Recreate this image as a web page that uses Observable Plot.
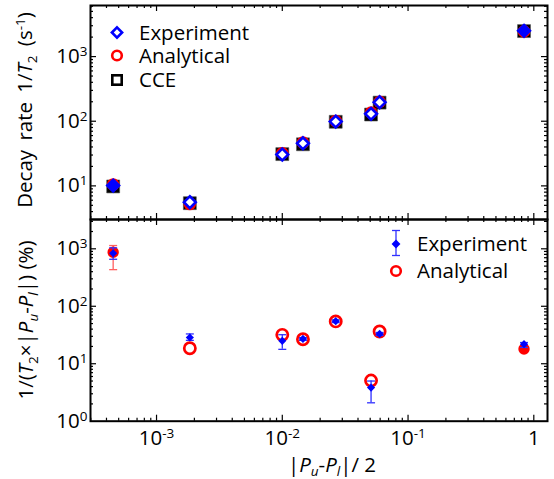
<!DOCTYPE html>
<html><head><meta charset="utf-8">
<script src="https://cdn.jsdelivr.net/npm/d3@7"></script>
<script src="https://cdn.jsdelivr.net/npm/@observablehq/plot@0.6"></script>
<style>
html,body{margin:0;padding:0;background:#fff;}
#chart{position:relative;width:554px;height:479px;font-family:"Open Sans",sans-serif;}
#chart svg{position:absolute;left:0;top:0;}
</style></head><body><div id="chart"></div>
<script>
// ---- data ----
const xVals = [4.52e-4, 1.84e-3, 0.0100, 0.0146, 0.0266, 0.0508, 0.0594, 0.836];
const rateExperiment = [10.1, 5.6, 30.5, 45.5, 98.6, 130, 196, 2500];
const rateAnalytical = [10.5, 5.25, 32, 47, 101, 136, 199, 2450];
const rateCCE = [9.8, 5.4, 31, 44, 98, 127, 194, 2480];
const normExperiment = [837, 28.6, 25, 27, 55, 3.84, 33, 21.9];
const normExpLow = [657, 25.5, 17.8, 25.5, 52, 2.09, 31, 19.2];
const normExpHigh = [1040, 33, 32, 28.5, 58, 5.0, 35, 23.4];
const normAnalytical = [870, 18.6, 31.8, 26.7, 54.5, 5.1, 36.4, 18.1];
const normAnaLow = [434, null, null, null, null, null, null, null];
const normAnaHigh = [1140, null, null, null, null, null, null, null];
const xMajorTicks = [1e-3, 1e-2, 1e-1, 1];
const xTickLabels = ["10^-3", "10^-2", "10^-1", "1"];
const yTopTicks = [10, 100, 1000];
const yTopLabels = ["10^1", "10^2", "10^3"];
const yBotTicks = [1, 10, 100, 1000];
const yBotLabels = ["10^0", "10^1", "10^2", "10^3"];
const topLegend = ["Experiment", "Analytical", "CCE"];
const botLegend = ["Experiment", "Analytical"];

// ---- layout ----
const W = 554, H = 479, L = 90, R = 7;
const topY0 = 5, midY = 219, botY1 = 420.7;
const xDomain = [2.985e-4, 1.285];
const topDomain = [3.02, 6166];
const botDomain = [1, 3236];
const BLUE = "#0000ff", RED = "#ff0000";
const FONT = 20.5;

function minorTicks(domain) {
  const out = [];
  for (let e = -6; e <= 5; e++) for (let m = 2; m <= 9; m++) {
    const v = m * Math.pow(10, e);
    if (v > domain[0] && v < domain[1]) out.push(v);
  }
  return out;
}
function frameTicks(yDomain, yMajor, ph) {
  const pw = W - L - R;
  const s = {stroke: "black", strokeWidth: 1.2};
  const xm = xMajorTicks.filter(v => v >= xDomain[0] && v <= xDomain[1]);
  const xn = minorTicks(xDomain);
  const yn = minorTicks(yDomain);
  const ym = yMajor.filter(v => v > yDomain[0] && v < yDomain[1]);
  return [
    Plot.tickX(xm, {x: d => d, insetTop: ph - 6, ...s}),
    Plot.tickX(xm, {x: d => d, insetBottom: ph - 6, ...s}),
    Plot.tickX(xn, {x: d => d, insetTop: ph - 3, ...s}),
    Plot.tickX(xn, {x: d => d, insetBottom: ph - 3, ...s}),
    Plot.tickY(ym, {y: d => d, insetRight: pw - 6, ...s}),
    Plot.tickY(ym, {y: d => d, insetLeft: pw - 6, ...s}),
    Plot.tickY(yn, {y: d => d, insetRight: pw - 3, ...s}),
    Plot.tickY(yn, {y: d => d, insetLeft: pw - 3, ...s})
  ];
}
const capSymbol = {draw(ctx, size) { const w = Math.sqrt(size / Math.PI); ctx.moveTo(-w, 0); ctx.lineTo(w, 0); }};
const svgStyle = {fontFamily: "'Open Sans', sans-serif", fontSize: FONT + "px", background: "transparent", overflow: "visible", color: "black"};

const rows = xVals.map((x, i) => ({
  i, x,
  rExp: rateExperiment[i], rAna: rateAnalytical[i], rCCE: rateCCE[i],
  nExp: normExperiment[i], nLo: normExpLow[i], nHi: normExpHigh[i],
  nAna: normAnalytical[i], aLo: normAnaLow[i], aHi: normAnaHigh[i]
}));
const filledIdx = d => d.i === 0 || d.i === xVals.length - 1;
const topLabelMap = new Map(yTopTicks.map((v, i) => [v, yTopLabels[i]]));
const botLabelMap = new Map(yBotTicks.map((v, i) => [v, yBotLabels[i]]));
const xLabelMap = new Map(xMajorTicks.map((v, i) => [v, xTickLabels[i]]));

const topPlot = Plot.plot({
  width: W, height: H, marginLeft: L, marginRight: R, marginTop: topY0, marginBottom: H - midY,
  style: svgStyle,
  x: {type: "log", domain: xDomain, axis: null},
  y: {type: "log", domain: topDomain, axis: null},
  color: {type: "identity"},
  marks: [
    ...frameTicks(topDomain, yTopTicks, midY - topY0),
    Plot.axisY(yTopTicks, {anchor: "left", label: null, tickSize: 0, tickPadding: 3, fontSize: FONT, tickFormat: d => topLabelMap.get(d)}),
    Plot.dot(rows, {x: "x", y: "rCCE", symbol: "square", r: 7.3, fill: "black", stroke: "#555", strokeWidth: 0.6}),
    Plot.dot(rows, {x: "x", y: "rAna", symbol: "circle", r: 6.3, fill: RED}),
    Plot.dot(rows, {x: "x", y: "rExp", symbol: "diamond2", r: 5.3, stroke: BLUE, strokeWidth: 2.6, fill: d => filledIdx(d) ? BLUE : "white"}),
    Plot.frame({stroke: "black", strokeWidth: 2})
  ]
});

const botPlot = Plot.plot({
  width: W, height: H, marginLeft: L, marginRight: R, marginTop: midY, marginBottom: H - botY1,
  style: svgStyle,
  x: {type: "log", domain: xDomain, axis: null},
  y: {type: "log", domain: botDomain, axis: null},
  color: {type: "identity"},
  marks: [
    ...frameTicks(botDomain, yBotTicks, botY1 - midY),
    Plot.axisY(yBotTicks, {anchor: "left", label: null, tickSize: 0, tickPadding: 3, fontSize: FONT, tickFormat: d => botLabelMap.get(d)}),
    Plot.axisX(xMajorTicks, {anchor: "bottom", label: null, tickSize: 0, tickPadding: 9, fontSize: FONT, tickFormat: d => xLabelMap.get(d)}),
    Plot.ruleX(rows.filter(d => d.aLo != null), {x: "x", y1: "aLo", y2: "aHi", stroke: "#ff6060", strokeWidth: 1.3}),
    Plot.dot(rows.filter(d => d.aLo != null), {x: "x", y: "aLo", symbol: capSymbol, r: 4, stroke: "#ff6060", strokeWidth: 1.3}),
    Plot.dot(rows.filter(d => d.aLo != null), {x: "x", y: "aHi", symbol: capSymbol, r: 4, stroke: "#ff6060", strokeWidth: 1.3}),
    Plot.dot(rows.filter(d => !filledIdx(d)), {x: "x", y: "nAna", symbol: "circle", r: 5.6, stroke: RED, strokeWidth: 2.7, fill: "none"}),
    Plot.dot(rows.filter(filledIdx), {x: "x", y: "nAna", symbol: "circle", r: 4.6, stroke: RED, strokeWidth: 2.2, fill: RED}),
    Plot.ruleX(rows, {x: "x", y1: "nLo", y2: "nHi", stroke: "#3030ff", strokeWidth: 1.3}),
    Plot.dot(rows, {x: "x", y: "nLo", symbol: capSymbol, r: 4, stroke: "#3030ff", strokeWidth: 1.3}),
    Plot.dot(rows, {x: "x", y: "nHi", symbol: capSymbol, r: 4, stroke: "#3030ff", strokeWidth: 1.3}),
    Plot.dot(rows, {x: "x", y: "nExp", symbol: "diamond2", r: 3.7, fill: BLUE}),
    Plot.frame({stroke: "black", strokeWidth: 2})
  ]
});

const chart = document.getElementById("chart");
chart.appendChild(topPlot);
chart.appendChild(botPlot);

// superscripts in tick labels
function supify(svg) {
  d3.select(svg).selectAll('g[aria-label$="tick label"] text').each(function () {
    const t = this.textContent;
    const parts = t.split("^");
    if (parts.length !== 2) return;
    const el = d3.select(this);
    el.text(null);
    el.append("tspan").text(parts[0]);
    el.append("tspan").attr("dy", -7).attr("font-size", 13.5).text(parts[1]);
  });
}
supify(topPlot); supify(botPlot);

// rich text helper
function richText(sel, segs) {
  let cur = 0;
  segs.forEach(([txt, o = {}]) => {
    const sh = o.shift || 0;
    const ts = sel.append("tspan").text(txt);
    if (sh - cur !== 0) ts.attr("dy", sh - cur);
    cur = sh;
    if (o.size) ts.attr("font-size", o.size);
    if (o.italic) ts.attr("font-style", "italic");
  });
}
const ts = d3.select(topPlot);
const yl1 = ts.append("text").attr("transform", "translate(32,110) rotate(-90)").attr("text-anchor", "middle").attr("font-size", FONT).attr("word-spacing", 4).attr("fill", "black");
richText(yl1, [["Decay rate 1/"], ["T", {italic: true}], ["2", {shift: 5, size: 13.5}], [" (s"], ["-1", {shift: -7, size: 13.5}], [")"]]);

// top legend
const lg = ts.append("g").attr("text-anchor", "start");
const legY = [32.5, 55.5, 80];
lg.append("path").attr("transform", `translate(117,${legY[0]})`).attr("d", d3.symbol(d3.symbolDiamond2, Math.PI * 4.6 * 4.6)()).attr("fill", "white").attr("stroke", BLUE).attr("stroke-width", 2.6);
lg.append("circle").attr("cx", 117).attr("cy", legY[1]).attr("r", 4.8).attr("fill", "white").attr("stroke", RED).attr("stroke-width", 2.6);
lg.append("rect").attr("x", 112.3).attr("y", legY[2] - 4.7).attr("width", 9.4).attr("height", 9.4).attr("fill", "white").attr("stroke", "black").attr("stroke-width", 2.6);
topLegend.forEach((s, i) => lg.append("text").attr("x", 139).attr("y", legY[i] + 7).attr("font-size", FONT).attr("fill", "black").text(s));

const bs = d3.select(botPlot);
const yl2 = bs.append("text").attr("transform", "translate(33,320) rotate(-90)").attr("text-anchor", "middle").attr("font-size", FONT).attr("fill", "black");
richText(yl2, [["1/("], ["T", {italic: true}], ["2", {shift: 5, size: 13.5}], ["\u00d7|"], ["P", {italic: true}], ["u", {shift: 5, size: 13.5, italic: true}], ["-"], ["P", {italic: true}], ["l", {shift: 5, size: 13.5, italic: true}], ["|) (%)"]]);

const xl = bs.append("text").attr("x", 332).attr("y", 472).attr("text-anchor", "middle").attr("font-size", FONT).attr("fill", "black");
richText(xl, [["|"], ["P", {italic: true}], ["u", {shift: 4, size: 13.5, italic: true}], ["-"], ["P", {italic: true}], ["l", {shift: 4, size: 13.5, italic: true}], ["|/ 2"]]);

// bottom legend
const bl = bs.append("g").attr("text-anchor", "start");
bl.append("line").attr("x1", 396).attr("x2", 396).attr("y1", 230.5).attr("y2", 255.5).attr("stroke", "#3030ff").attr("stroke-width", 1.3);
bl.append("line").attr("x1", 392).attr("x2", 400).attr("y1", 230.5).attr("y2", 230.5).attr("stroke", "#3030ff").attr("stroke-width", 1.3);
bl.append("line").attr("x1", 392).attr("x2", 400).attr("y1", 255.5).attr("y2", 255.5).attr("stroke", "#3030ff").attr("stroke-width", 1.3);
bl.append("path").attr("transform", "translate(396,244)").attr("d", d3.symbol(d3.symbolDiamond2, Math.PI * 4.0 * 4.0)()).attr("fill", BLUE);
bl.append("circle").attr("cx", 396).attr("cy", 271).attr("r", 4.8).attr("fill", "none").attr("stroke", RED).attr("stroke-width", 2.6);
botLegend.forEach((s, i) => bl.append("text").attr("x", 417).attr("y", [251, 278][i]).attr("font-size", FONT).attr("fill", "black").text(s));
</script></body></html>
